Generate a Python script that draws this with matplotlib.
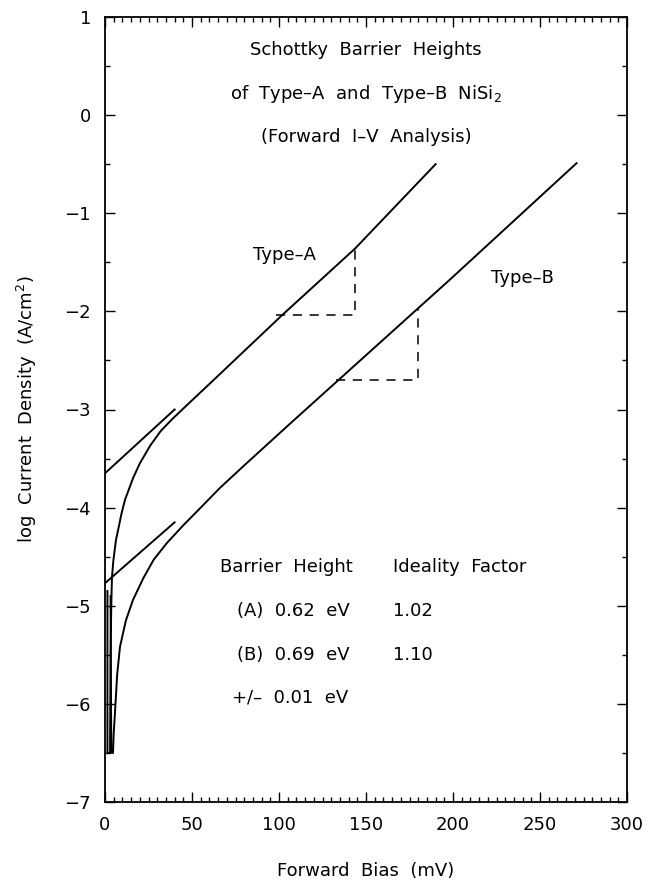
import matplotlib
matplotlib.use("Agg")
import matplotlib.pyplot as plt
from matplotlib.ticker import MultipleLocator

# --- data ---
# measured curves (forward bias in mV, log current density)
bias_a = [1.4, 1.4, 2.9, 3.2, 3.6, 4.0, 4.8, 6.3, 7.5, 9.5, 11.5, 16.1, 20, 25.9, 32, 38.5, 48, 60, 101.7, 143.7, 190]
logj_a = [-4.85, -6.5, -6.5, -5.5, -5.0, -4.71, -4.54, -4.33, -4.23, -4.06, -3.92, -3.70, -3.55, -3.37, -3.22, -3.10, -2.94, -2.74, -2.04, -1.36, -0.50]

bias_b = [3.2, 3.6, 4.6, 5.0, 5.7, 7.0, 8.6, 12.0, 16.1, 22.0, 28.0, 35.6, 45, 55, 66, 80, 106, 198, 271]
logj_b = [-4.9, -6.5, -6.5, -6.3, -6.1, -5.7, -5.42, -5.15, -4.94, -4.72, -4.53, -4.36, -4.18, -4.00, -3.80, -3.57, -3.15, -1.68, -0.49]

# straight-line fits extended back to zero bias
fit_a_bias = [0, 40]
fit_a_logj = [-3.65, -3.00]
fit_b_bias = [0, 40]
fit_b_logj = [-4.77, -4.15]

# slope triangles (dashed)
tri_a_bias = [98, 143.7, 143.7]
tri_a_logj = [-2.04, -2.04, -1.36]
tri_b_bias = [133, 180, 180]
tri_b_logj = [-2.70, -2.70, -1.97]

title_lines = ["Schottky  Barrier  Heights",
               "of  Type\u2013A  and  Type\u2013B  NiSi$_2$",
               "(Forward  I\u2013V  Analysis)"]
title_y = [0.66, 0.22, -0.22]

table_rows = ["Barrier  Height", "(A)  0.62  eV", "(B)  0.69  eV", "+/\u2013  0.01  eV"]
table_x = [66, 76, 76, 73]
table_y = [-4.61, -5.05, -5.50, -5.93]
ideality = ["Ideality  Factor", "1.02", "1.10"]

# --- figure ---
fig = plt.figure(figsize=(6.47, 8.81), dpi=100)
ax = fig.add_axes([105 / 647, 1 - 802 / 881, 522 / 647, 785 / 881])

lw = 1.4
ax.plot(bias_a, logj_a, color="black", lw=lw)
ax.plot(bias_b, logj_b, color="black", lw=lw)
ax.plot(fit_a_bias, fit_a_logj, color="black", lw=lw)
ax.plot(fit_b_bias, fit_b_logj, color="black", lw=lw)
ax.plot(tri_a_bias, tri_a_logj, color="black", lw=1.1, dashes=(6, 5))
ax.plot(tri_b_bias, tri_b_logj, color="black", lw=1.1, dashes=(6, 5))

fs = 13
for s, y in zip(title_lines, title_y):
    ax.text(150, y, s, ha="center", va="center", fontsize=fs)

ax.text(121, -1.43, "Type\u2013A", ha="right", va="center", fontsize=fs)
ax.text(222, -1.66, "Type\u2013B", ha="left", va="center", fontsize=fs)

for s, x, y in zip(table_rows, table_x, table_y):
    ax.text(x, y, s, ha="left", va="center", fontsize=fs)
for s, y in zip(ideality, table_y[:3]):
    ax.text(165.5, y, s, ha="left", va="center", fontsize=fs)

ax.set_xlim(0, 300)
ax.set_ylim(-7, 1)
ax.xaxis.set_major_locator(MultipleLocator(50))
ax.xaxis.set_minor_locator(MultipleLocator(5))
ax.yaxis.set_major_locator(MultipleLocator(1))
ax.yaxis.set_minor_locator(MultipleLocator(0.5))
ax.tick_params(which="both", direction="in", top=True, right=True, labelsize=13, width=1)
ax.tick_params(which="major", length=7, pad=10)
ax.tick_params(which="minor", length=3.5)
for sp in ax.spines.values():
    sp.set_linewidth(1.3)

ax.set_xlabel("Forward  Bias  (mV)", fontsize=13, labelpad=20)
ax.set_ylabel("log  Current  Density  (A/cm$^2$)", fontsize=13, labelpad=18)

fig.savefig("out.png", dpi=100)
